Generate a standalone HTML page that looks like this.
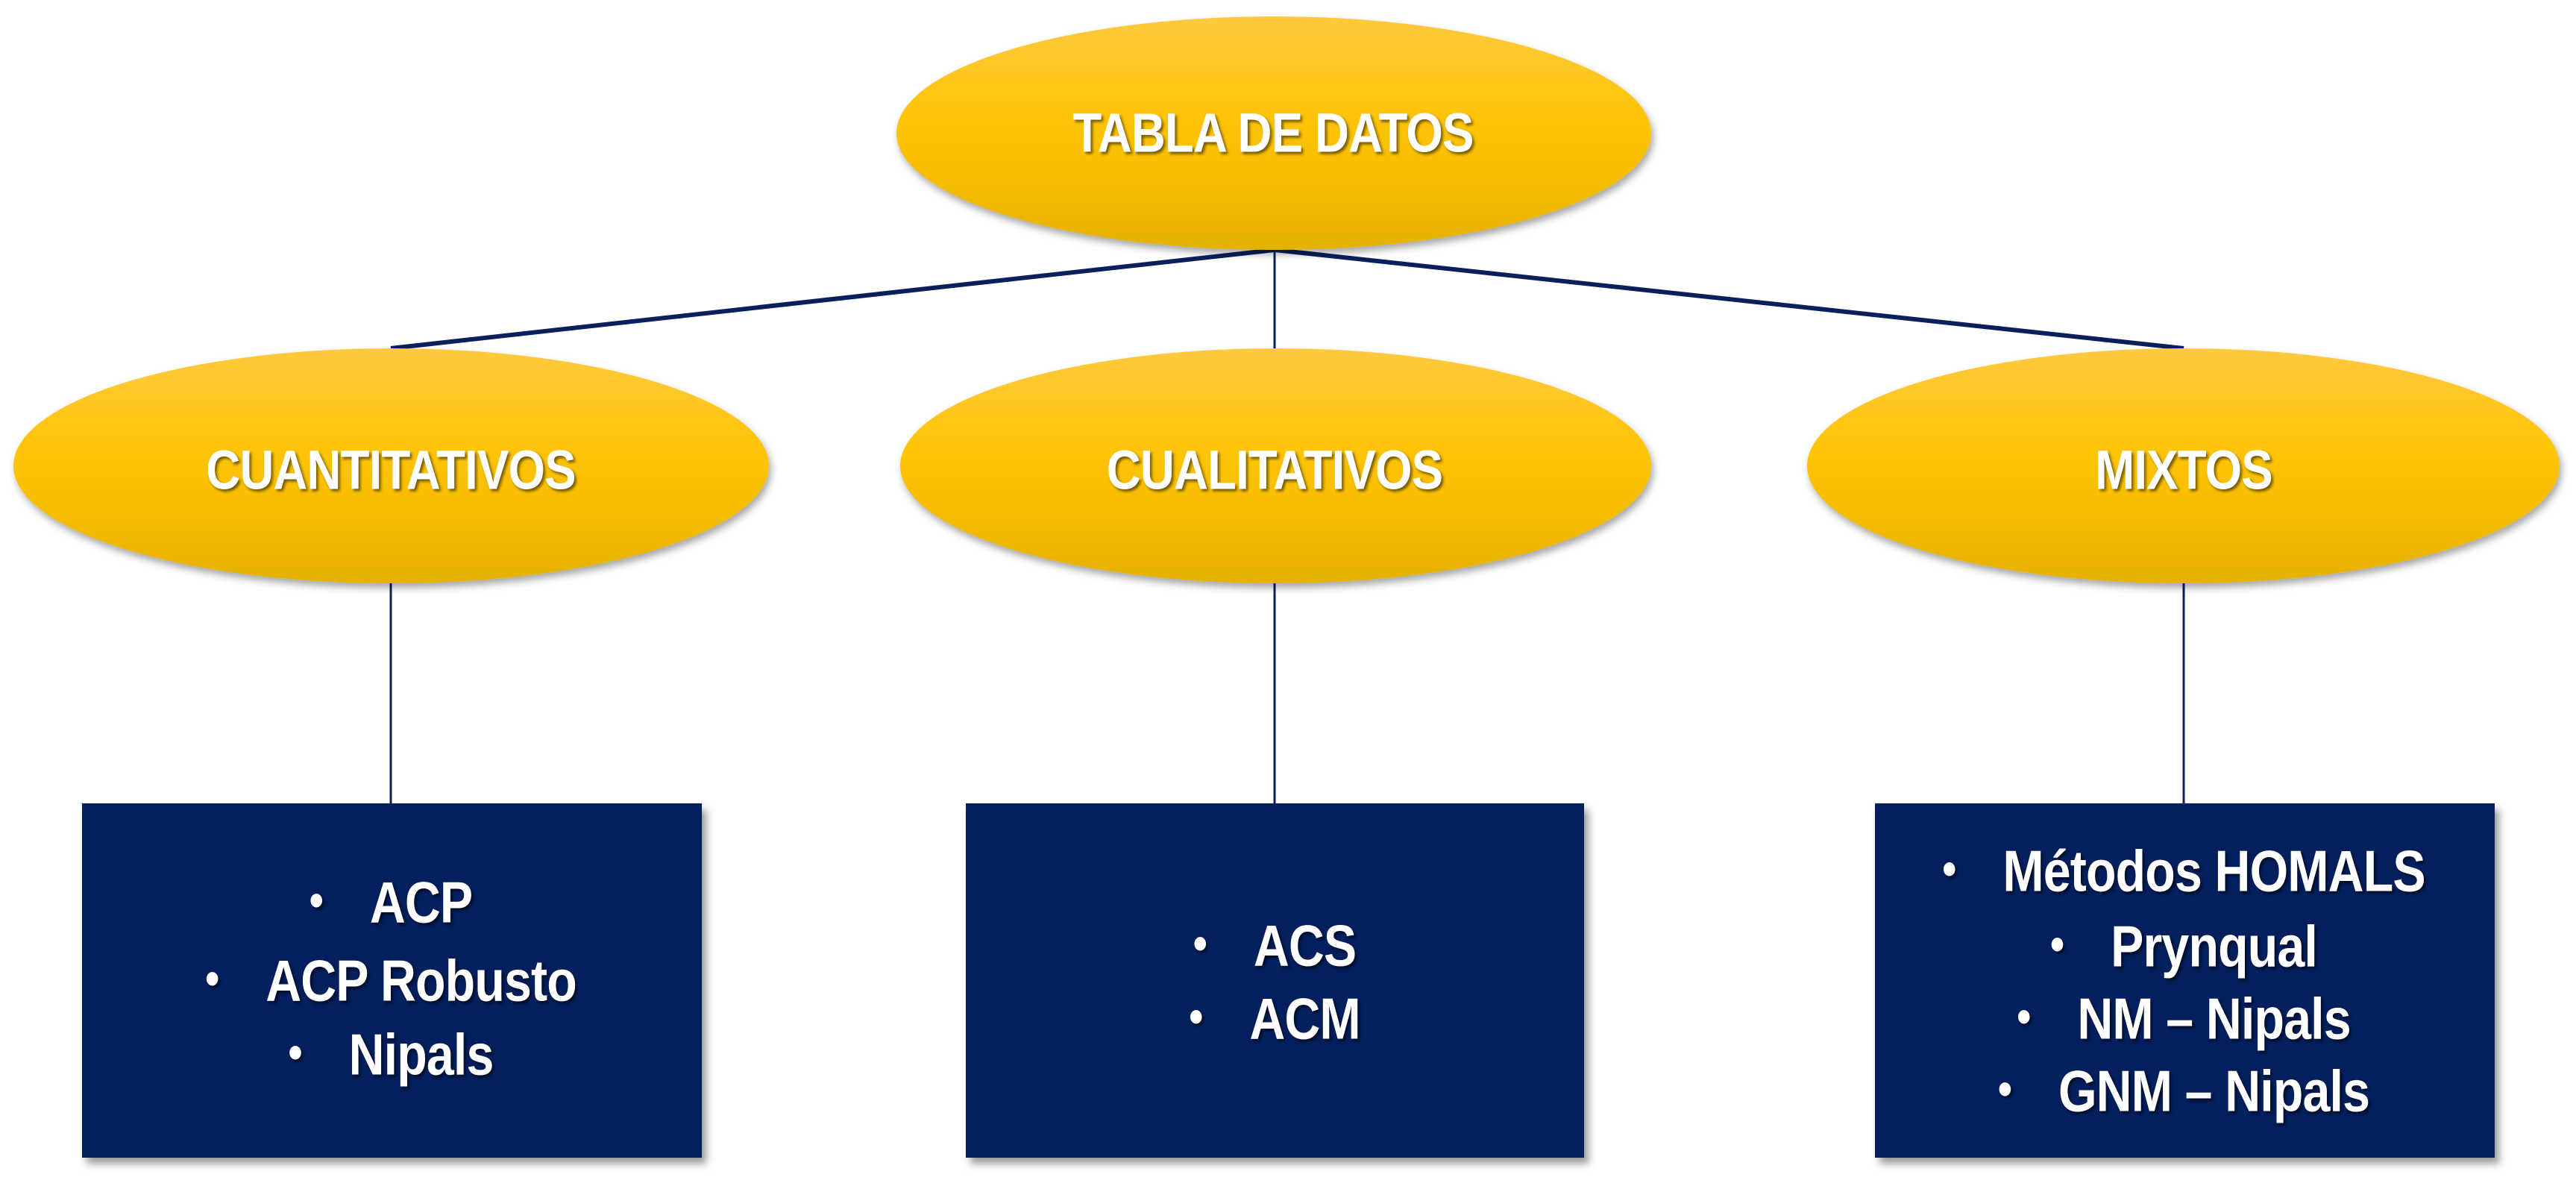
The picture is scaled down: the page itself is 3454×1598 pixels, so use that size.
<!DOCTYPE html>
<html><head><meta charset="utf-8"><style>
html,body{margin:0;padding:0;background:#fff;width:3454px;height:1598px;overflow:hidden;position:relative;font-family:"Liberation Sans",sans-serif}
.el{position:absolute;border-radius:50%;background:linear-gradient(#ffc940 0%,#ffc50a 40%,#f6bd00 70%,#e5b100 100%);box-shadow:3px 6px 10px rgba(0,0,0,.35)}
.lab{position:absolute;color:#fff;font-weight:bold;font-size:74px;text-shadow:3px 3px 4px rgba(0,0,0,.55);transform:translate(-50%,-50%) scaleX(.86);white-space:nowrap;letter-spacing:-1px}
.box{position:absolute;background:#031f5d;box-shadow:6px 8px 10px rgba(0,0,0,.4)}
.ln{position:absolute;color:#fff;font-weight:bold;font-size:78px;text-shadow:3px 3px 4px rgba(0,0,0,.6);transform:translate(-50%,-50%) scaleX(.85);white-space:nowrap;letter-spacing:-1px}
.ln b{font-size:64px;margin-right:74px;position:relative;top:-8px}
</style></head><body>
<svg width="3454" height="1598" style="position:absolute;left:0;top:0">
<g stroke="#0a1f5c" fill="none">
<line x1="1709" y1="335" x2="524" y2="467" stroke-width="6"/>
<line x1="1709" y1="335" x2="2928" y2="467" stroke-width="6"/>
<line x1="1709" y1="335" x2="1709" y2="467" stroke-width="3"/>
<line x1="524" y1="780" x2="524" y2="1078" stroke-width="3"/>
<line x1="1709" y1="780" x2="1709" y2="1078" stroke-width="3"/>
<line x1="2928" y1="780" x2="2928" y2="1078" stroke-width="3"/>
</g></svg>
<div class="el" style="left:1202px;top:22px;width:1012px;height:313px"></div>
<div class="el" style="left:18px;top:467px;width:1013px;height:315px"></div>
<div class="el" style="left:1207px;top:467px;width:1007px;height:315px"></div>
<div class="el" style="left:2423px;top:467px;width:1009px;height:315px"></div>
<div class="lab" style="left:1707px;top:178px">TABLA DE DATOS</div>
<div class="lab" style="left:524px;top:630px">CUANTITATIVOS</div>
<div class="lab" style="left:1709px;top:630px">CUALITATIVOS</div>
<div class="lab" style="left:2928px;top:630px">MIXTOS</div>
<div class="box" style="left:110px;top:1077px;width:831px;height:475px"></div>
<div class="box" style="left:1295px;top:1077px;width:829px;height:475px"></div>
<div class="box" style="left:2514px;top:1077px;width:831px;height:475px"></div>
<div class="ln" style="left:524px;top:1210px"><b>•</b>ACP</div>
<div class="ln" style="left:524px;top:1315px"><b>•</b>ACP Robusto</div>
<div class="ln" style="left:524px;top:1414px"><b>•</b>Nipals</div>
<div class="ln" style="left:1709px;top:1268px"><b>•</b>ACS</div>
<div class="ln" style="left:1709px;top:1366px"><b>•</b>ACM</div>
<div class="ln" style="left:2928px;top:1168px"><b>•</b>Métodos HOMALS</div>
<div class="ln" style="left:2928px;top:1269px"><b>•</b>Prynqual</div>
<div class="ln" style="left:2928px;top:1366px"><b>•</b>NM – Nipals</div>
<div class="ln" style="left:2928px;top:1463px"><b>•</b>GNM – Nipals</div>
</body></html>
